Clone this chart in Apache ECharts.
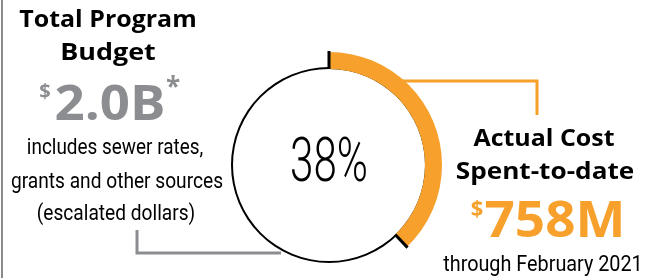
<!DOCTYPE html>
<html><head><meta charset="utf-8">
<script src="https://cdn.jsdelivr.net/npm/echarts@6/dist/echarts.min.js"></script>
<style>html,body{margin:0;padding:0;background:#fff}#c{width:659px;height:280px}</style>
</head><body><div id="c"></div>
<script>
// ---- data ----
const totalBudgetM = 2000;           // $2.0B
const spentToDateM = 758;            // $758M
const categories = ['Actual Cost Spent-to-date', 'Remaining'];
const values = [spentToDateM, totalBudgetM - spentToDateM];
const percentLabel = Math.round(spentToDateM / totalBudgetM * 100) + '%';
const leftTitle = ['Total Program', 'Budget'];
const leftValue = '2.0B';
const leftNote = ['includes sewer rates,', 'grants and other sources', '(escalated dollars)'];
const rightTitle = ['Actual Cost', 'Spent-to-date'];
const rightValue = '758M';
const rightNote = 'through February 2021';

const ORANGE = '#F7A02B', GRAY = '#8B8D90';
const CX = 329, CY = 165;
const BOLD = '"Open Sans", sans-serif';
const COND = 'Roboto, sans-serif';

function txt(x, y, text, size, weight, color, family, sx) {
  return { type: 'text', x: x, y: y, scaleX: sx || 1, silent: true,
    style: { text: text, x: 0, y: 0, font: weight + ' ' + size + 'px ' + family,
      fill: color, align: 'center', verticalAlign: 'middle' } };
}

const chart = echarts.init(document.getElementById('c'), null, { renderer: 'canvas' });
chart.setOption({
  animation: false,
  polar: { center: [CX, CY], radius: 120 },
  angleAxis: { type: 'value', min: 0, max: totalBudgetM, startAngle: 90, clockwise: true, show: false },
  radiusAxis: { type: 'value', min: 0, max: 120, show: false },
  series: [
    { type: 'pie', silent: true, center: [CX, CY], radius: [96, 98], label: { show: false },
      itemStyle: { color: '#000', borderWidth: 0 }, data: [{ name: 'circle', value: totalBudgetM }], z: 1 },
    { type: 'pie', silent: true, center: [CX, CY], radius: [96, 113], startAngle: 90, clockwise: true,
      label: { show: false }, labelLine: { show: false },
      data: categories.map((n, i) => ({ name: n, value: values[i],
        itemStyle: { color: i === 0 ? ORANGE : 'rgba(0,0,0,0)', borderWidth: 0 } })), z: 2 },
    { type: 'line', coordinateSystem: 'polar', symbol: 'none', silent: true, z: 3,
      lineStyle: { color: '#000', width: 3 }, data: [[96, 0], [114, 0]] },
    { type: 'line', coordinateSystem: 'polar', symbol: 'none', silent: true, z: 3,
      lineStyle: { color: '#000', width: 3 }, data: [[96, values[0]], [114, values[0]]] }
  ],
  graphic: [
    { type: 'line', silent: true, shape: { x1: 2, y1: 0, x2: 2, y2: 278 }, style: { stroke: '#8a8a8a', lineWidth: 2 } },
    { type: 'polyline', silent: true, shape: { points: [[137, 230], [137, 253], [281, 253]] }, style: { stroke: GRAY, lineWidth: 3, fill: null } },
    { type: 'polyline', silent: true, shape: { points: [[402, 81], [537, 81], [537, 115]] }, style: { stroke: ORANGE, lineWidth: 3, fill: null } },
    txt(108, 20, leftTitle[0], 24, 'bold', '#000', BOLD, 1.04),
    txt(108, 53, leftTitle[1], 24, 'bold', '#000', BOLD, 1.12),
    txt(110, 106, leftValue, 48, 'bold', GRAY, BOLD, 1.1),
    txt(45, 92, '$', 20, 'bold', GRAY, BOLD, 1),
    txt(173, 89, '*', 26, 'bold', GRAY, BOLD, 1),
    txt(115, 148, leftNote[0], 22, 'normal', '#000', COND, 0.86),
    txt(117, 182, leftNote[1], 22, 'normal', '#000', COND, 0.87),
    txt(116, 214, leftNote[2], 22, 'normal', '#000', COND, 0.87),
    txt(CX, 165, percentLabel, 62, '300', '#000', COND, 0.68),
    txt(544, 139, rightTitle[0], 24, 'bold', '#000', BOLD, 1.04),
    txt(545, 172, rightTitle[1], 24, 'bold', '#000', BOLD, 1.09),
    txt(555, 223, rightValue, 50, 'bold', ORANGE, BOLD, 1.06),
    txt(477, 210, '$', 22, 'bold', ORANGE, BOLD, 1),
    txt(543, 265, rightNote, 22, 'normal', '#000', COND, 0.9)
  ]
});
</script></body></html>
